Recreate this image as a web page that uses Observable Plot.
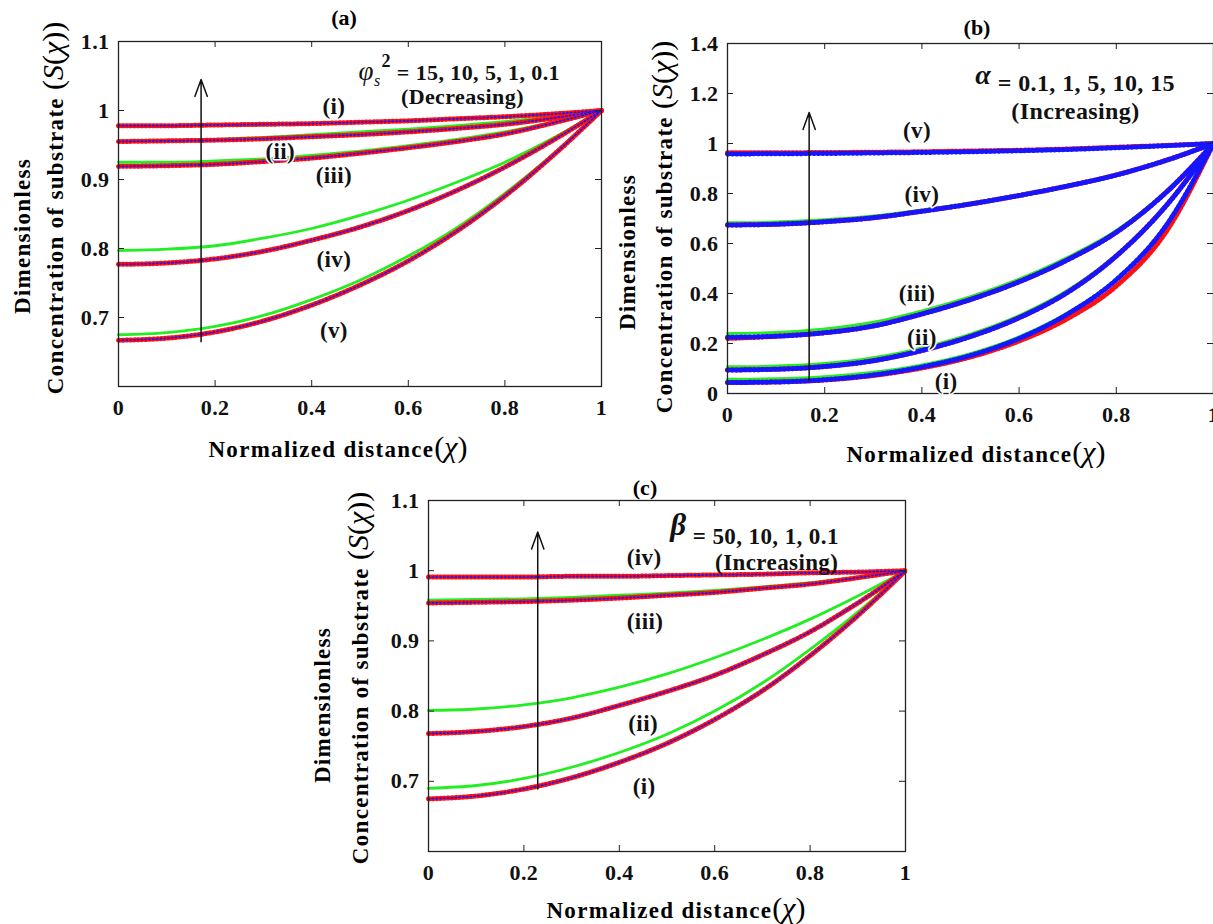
<!DOCTYPE html>
<html>
<head>
<meta charset="utf-8">
<script src="https://cdn.jsdelivr.net/npm/d3@7"></script>
<script src="https://cdn.jsdelivr.net/npm/@observablehq/plot@0.6"></script>
<style>
html,body{margin:0;padding:0;background:#fff;overflow:hidden;}
#root{position:relative;width:1213px;height:924px;overflow:hidden;background:#fff;font-family:"Liberation Serif","Times New Roman","DejaVu Serif",serif;color:#000;}
.abs{position:absolute;white-space:nowrap;transform:translate(-50%,-50%);font-weight:bold;line-height:1;}
.ylab{transform:translate(-50%,-50%) rotate(-90deg);font-size:23px;letter-spacing:1.3px;}
.xlab{font-size:23px;letter-spacing:1.3px;}
.math{font-weight:normal;font-size:30px;letter-spacing:0;}
.title{font-size:22px;}
</style>
</head>
<body>
<div id="root"></div>
<script>
// ---------------- data ----------------
const chi = [0, 0.1, 0.2, 0.3, 0.4, 0.5, 0.6, 0.7, 0.8, 0.9, 1];
const xTicks = [0, 0.2, 0.4, 0.6, 0.8, 1];

// Panel (a): phi_s^2 = 15, 10, 5, 1, 0.1
const aCurves = ["(i)", "(ii)", "(iii)", "(iv)", "(v)"];
const aYTicks = [0.7, 0.8, 0.9, 1, 1.1];
const aRed = [
  [0.978, 0.978, 0.979, 0.980, 0.981, 0.983, 0.985, 0.988, 0.991, 0.995, 1.0],
  [0.955, 0.956, 0.957, 0.959, 0.962, 0.965, 0.969, 0.974, 0.980, 0.989, 1.0],
  [0.919, 0.920, 0.922, 0.926, 0.931, 0.938, 0.946, 0.955, 0.966, 0.982, 1.0],
  [0.777, 0.779, 0.785, 0.796, 0.812, 0.831, 0.855, 0.884, 0.918, 0.957, 1.0],
  [0.667, 0.670, 0.679, 0.695, 0.718, 0.747, 0.782, 0.825, 0.876, 0.935, 1.0]
];
const aBlue = [
  [0.978, 0.978, 0.979, 0.980, 0.981, 0.983, 0.985, 0.988, 0.991, 0.995, 1.0],
  [0.955, 0.956, 0.957, 0.959, 0.962, 0.965, 0.969, 0.974, 0.980, 0.989, 1.0],
  [0.919, 0.920, 0.922, 0.926, 0.931, 0.938, 0.946, 0.955, 0.966, 0.982, 1.0],
  [0.777, 0.779, 0.785, 0.796, 0.812, 0.831, 0.855, 0.884, 0.918, 0.957, 1.0],
  [0.667, 0.670, 0.679, 0.695, 0.718, 0.747, 0.782, 0.825, 0.876, 0.935, 1.0]
];
const aGreen = [
  [0.977, 0.977, 0.978, 0.979, 0.981, 0.983, 0.985, 0.988, 0.991, 0.995, 1.0],
  [0.956, 0.957, 0.958, 0.961, 0.965, 0.969, 0.973, 0.978, 0.984, 0.991, 1.0],
  [0.925, 0.925, 0.927, 0.930, 0.935, 0.941, 0.949, 0.958, 0.969, 0.983, 1.0],
  [0.797, 0.799, 0.804, 0.815, 0.829, 0.848, 0.870, 0.896, 0.925, 0.960, 1.0],
  [0.675, 0.678, 0.687, 0.703, 0.726, 0.754, 0.789, 0.830, 0.880, 0.937, 1.0]
];
const aLabels = [
  {x: 0.446, y: 1.006, t: "(i)"}, {x: 0.335, y: 0.941, t: "(ii)"},
  {x: 0.446, y: 0.906, t: "(iii)"}, {x: 0.446, y: 0.784, t: "(iv)"},
  {x: 0.446, y: 0.681, t: "(v)"}
];
const aArrow = [{x: 0.171, y1: 0.665, y2: 1.045}];
const aNote = [{x: 0.497, y: 1.055, sym: "φ", sub: "s", sup: "2", rest: "= 15, 10, 5, 1, 0.1"}];
const aNote2 = [{x: 0.712, y: 1.019, t: "(Decreasing)"}];

// Panel (b): alpha = 0.1, 1, 5, 10, 15
const bCurves = ["(i)", "(ii)", "(iii)", "(iv)", "(v)"];
const bYTicks = [0, 0.2, 0.4, 0.6, 0.8, 1, 1.2, 1.4];
const bRed = [
  [0.044, 0.046, 0.054, 0.072, 0.102, 0.146, 0.210, 0.300, 0.430, 0.640, 1.0],
  [0.094, 0.097, 0.108, 0.131, 0.172, 0.228, 0.303, 0.405, 0.550, 0.745, 1.0],
  [0.220, 0.229, 0.243, 0.270, 0.318, 0.376, 0.447, 0.535, 0.645, 0.800, 1.0],
  [0.674, 0.677, 0.687, 0.703, 0.729, 0.758, 0.792, 0.830, 0.874, 0.931, 1.0],
  [0.963, 0.963, 0.964, 0.965, 0.967, 0.970, 0.973, 0.978, 0.985, 0.992, 1.0]
];
const bBlue = [
  [0.044, 0.046, 0.055, 0.074, 0.106, 0.152, 0.220, 0.318, 0.455, 0.665, 1.0],
  [0.094, 0.097, 0.108, 0.131, 0.172, 0.228, 0.303, 0.405, 0.550, 0.745, 1.0],
  [0.225, 0.229, 0.243, 0.270, 0.318, 0.376, 0.447, 0.535, 0.645, 0.800, 1.0],
  [0.674, 0.677, 0.687, 0.703, 0.729, 0.758, 0.792, 0.830, 0.874, 0.931, 1.0],
  [0.958, 0.959, 0.960, 0.962, 0.964, 0.967, 0.971, 0.976, 0.983, 0.991, 1.0]
];
const bGreen = [
  [0.057, 0.059, 0.067, 0.085, 0.115, 0.160, 0.227, 0.323, 0.458, 0.667, 1.0],
  [0.107, 0.110, 0.120, 0.143, 0.183, 0.238, 0.312, 0.413, 0.555, 0.748, 1.0],
  [0.240, 0.244, 0.258, 0.285, 0.331, 0.388, 0.458, 0.545, 0.652, 0.805, 1.0],
  [0.683, 0.686, 0.695, 0.710, 0.734, 0.762, 0.795, 0.833, 0.876, 0.932, 1.0],
  [0.958, 0.959, 0.960, 0.962, 0.964, 0.967, 0.971, 0.976, 0.983, 0.991, 1.0]
];
const bLabels = [
  {x: 0.39, y: 1.05, t: "(v)"}, {x: 0.40, y: 0.795, t: "(iv)"},
  {x: 0.39, y: 0.40, t: "(iii)"}, {x: 0.40, y: 0.225, t: "(ii)"},
  {x: 0.45, y: 0.046, t: "(i)"}
];
const bArrow = [{x: 0.168, y1: 0.052, y2: 1.124}];
const bNote = [{x: 0.51, y: 1.24, sym: "α", rest: "= 0.1, 1, 5, 10, 15"}];
const bNote2 = [{x: 0.716, y: 1.13, t: "(Increasing)"}];

// Panel (c): beta = 50, 10, 1, 0.1
const cCurves = ["(i)", "(ii)", "(iii)", "(iv)"];
const cYTicks = [0.7, 0.8, 0.9, 1, 1.1];
const cRed = [
  [0.675, 0.679, 0.689, 0.705, 0.727, 0.754, 0.788, 0.829, 0.879, 0.936, 1.0],
  [0.768, 0.771, 0.778, 0.790, 0.808, 0.828, 0.851, 0.880, 0.913, 0.954, 1.0],
  [0.954, 0.955, 0.956, 0.958, 0.961, 0.965, 0.969, 0.975, 0.981, 0.990, 1.0],
  [0.991, 0.991, 0.991, 0.992, 0.992, 0.993, 0.994, 0.995, 0.997, 0.998, 1.0]
];
const cBlue = [
  [0.675, 0.679, 0.689, 0.705, 0.727, 0.754, 0.788, 0.829, 0.879, 0.936, 1.0],
  [0.768, 0.771, 0.778, 0.790, 0.808, 0.828, 0.851, 0.880, 0.913, 0.954, 1.0],
  [0.954, 0.955, 0.956, 0.958, 0.961, 0.965, 0.969, 0.975, 0.981, 0.990, 1.0],
  [0.991, 0.991, 0.991, 0.992, 0.992, 0.993, 0.994, 0.995, 0.997, 0.998, 1.0]
];
const cGreen = [
  [0.690, 0.694, 0.704, 0.720, 0.741, 0.767, 0.800, 0.840, 0.888, 0.941, 1.0],
  [0.801, 0.803, 0.809, 0.819, 0.834, 0.853, 0.876, 0.902, 0.931, 0.964, 1.0],
  [0.958, 0.959, 0.960, 0.962, 0.965, 0.968, 0.972, 0.977, 0.983, 0.991, 1.0],
  [0.991, 0.991, 0.991, 0.992, 0.992, 0.993, 0.994, 0.995, 0.997, 0.998, 1.0]
];
const cLabels = [
  {x: 0.452, y: 1.018, t: "(iv)"}, {x: 0.454, y: 0.928, t: "(iii)"},
  {x: 0.45, y: 0.782, t: "(ii)"}, {x: 0.452, y: 0.692, t: "(i)"}
];
const cArrow = [{x: 0.229, y1: 0.689, y2: 1.055}];
const cNote = [{x: 0.507, y: 1.049, sym: "β", rest: "= 50, 10, 1, 0.1"}];
const cNote2 = [{x: 0.73, y: 1.011, t: "(Increasing)"}];

// ---------------- layout ----------------
const root = document.getElementById("root");
const GREEN = "#22ee22", RED = "#ff1010", BLUE = "#1515ff";
const FONT = "'Liberation Serif','Times New Roman','DejaVu Serif',serif";

function noteText(d) { return d.sym + (d.sub || "") + (d.sup || "") + " " + d.rest; }

function panel(cfg) {
  const mL = 70, mR = 20, mT = 20, mB = 50;
  const f = cfg.frame;
  const rows = (arr) => arr.flatMap((vals, k) => vals.map((v, j) => ({x: chi[j], y: v, curve: cfg.names[k]})));
  const R = rows(cfg.red), B = rows(cfg.blue), G = rows(cfg.green);
  const L = {x: "x", y: "y", z: "curve", curve: "monotone-x"};
  const marks = [
    Plot.line(G, {...L, stroke: GREEN, strokeWidth: 2.8}),
    Plot.line(R, {...L, stroke: RED, strokeWidth: 1.2}),
    Plot.line(R, {...L, stroke: RED, strokeWidth: 5, strokeDasharray: "1.4,2.4"})
  ];
  if (cfg.blueComb) {
    marks.push(Plot.line(B, {...L, stroke: BLUE, strokeWidth: 1.1}));
    marks.push(Plot.line(B, {...L, stroke: BLUE, strokeWidth: 5, strokeDasharray: "1.3,3"}));
  } else {
    marks.push(Plot.line(B, {...L, stroke: BLUE, strokeWidth: 1.7, strokeDasharray: "1.3,2.5"}));
  }
  marks.push(
    Plot.frame({stroke: "#222", strokeWidth: 1.3}),
    Plot.tickX(xTicks, {x: d => d, insetTop: f.h - 6, stroke: "#222"}),
    Plot.tickX(xTicks, {x: d => d, insetBottom: f.h - 6, stroke: "#222"}),
    Plot.tickY(cfg.yTicks, {y: d => d, insetRight: f.w - 6, stroke: "#222"}),
    Plot.tickY(cfg.yTicks, {y: d => d, insetLeft: f.w - 6, stroke: "#222"}),
    Plot.axisX({ticks: xTicks, tickSize: 0, tickPadding: 13, tickFormat: d => String(d), label: null}),
    Plot.axisY({ticks: cfg.yTicks, tickSize: 0, tickPadding: 9, tickFormat: d => String(d), label: null}),
    Plot.arrow(cfg.arrow, {x1: "x", x2: "x", y1: "y1", y2: "y2", stroke: "#111", strokeWidth: 1.5, headLength: 18, headAngle: 40}),
    Plot.text(cfg.labels, {x: "x", y: "y", text: "t", fontSize: 23, fontWeight: "bold", fill: "#111", stroke: "white", strokeWidth: 3}),
    Plot.text(cfg.note, {x: "x", y: "y", text: noteText, textAnchor: "start", fontSize: cfg.noteSize, fontWeight: "bold", fill: "#111"}),
    Plot.text(cfg.note2, {x: "x", y: "y", text: "t", fontSize: cfg.noteSize, fontWeight: "bold", fill: "#111"})
  );
  const svg = Plot.plot({
    width: mL + f.w + mR,
    height: mT + f.h + mB,
    marginLeft: mL, marginRight: mR, marginTop: mT, marginBottom: mB,
    x: {domain: [0, 1]},
    y: {domain: cfg.yDomain},
    style: {fontFamily: FONT, fontSize: "22px", fontWeight: "bold", color: "#111", background: "transparent", overflow: "visible", letterSpacing: "0.4px"},
    marks
  });
  svg.style.position = "absolute";
  svg.style.left = (f.l - mL) + "px";
  svg.style.top = (f.t - mT) + "px";
  svg.style.maxWidth = "none";
  root.appendChild(svg);
  // math formatting of the parameter annotation
  const d = cfg.note[0];
  const NS = "http://www.w3.org/2000/svg";
  svg.querySelectorAll("text").forEach(el => {
    if (el.textContent !== noteText(d)) return;
    while (el.firstChild) el.removeChild(el.firstChild);
    const add = (txt, attrs) => {
      const t = document.createElementNS(NS, "tspan");
      for (const k in attrs) t.setAttribute(k, attrs[k]);
      t.textContent = txt;
      el.appendChild(t);
    };
    if (d.sub) {
      add(d.sym, {"font-style": "italic", "font-weight": "normal", "font-size": 27});
      add(d.sub, {"font-style": "italic", "font-weight": "normal", "font-size": 16, dy: 6});
      add(d.sup, {"font-size": 18, dy: -19, dx: 1});
      add(" " + d.rest, {dy: 13});
    } else {
      add(d.sym, {"font-style": "italic", "font-size": cfg.symSize, dy: -cfg.symRaise});
      add(" " + d.rest, {dy: cfg.symRaise});
    }
  });
}

function addDiv(cls, html, cx, cy) {
  const el = document.createElement("div");
  el.className = "abs " + cls;
  el.innerHTML = html;
  el.style.left = cx + "px";
  el.style.top = cy + "px";
  root.appendChild(el);
}

panel({frame: {l: 118, t: 41, w: 483, h: 345}, yDomain: [0.6, 1.1], yTicks: aYTicks, names: aCurves,
  red: aRed, blue: aBlue, green: aGreen, labels: aLabels, arrow: aArrow, note: aNote, note2: aNote2, blueComb: false, noteSize: 22});
panel({frame: {l: 727, t: 43, w: 486, h: 350}, yDomain: [0, 1.4], yTicks: bYTicks, names: bCurves,
  red: bRed, blue: bBlue, green: bGreen, labels: bLabels, arrow: bArrow, note: bNote, note2: bNote2, blueComb: true, symSize: 28, symRaise: 7, noteSize: 24});
panel({frame: {l: 428, t: 500, w: 477, h: 351}, yDomain: [0.6, 1.1], yTicks: cYTicks, names: cCurves,
  red: cRed, blue: cBlue, green: cGreen, labels: cLabels, arrow: cArrow, note: cNote, note2: cNote2, blueComb: false, symSize: 31, symRaise: 9, noteSize: 23});

const XLAB = 'Normalized distance<span class="math">(<i>χ</i>)</span>';
const YLAB1 = 'Dimensionless';
const YLAB2 = 'Concentration of substrate <span class="math">(<i>S</i>(<i>χ</i>))</span>';

addDiv("title", "(a)", 344, 18);
addDiv("title", "(b)", 977, 28);
addDiv("title", "(c)", 645, 488);
addDiv("xlab", XLAB, 338, 447);
addDiv("xlab", XLAB, 976, 452);
addDiv("xlab", XLAB, 676, 908);
addDiv("ylab", YLAB1, 22, 236);
addDiv("ylab", YLAB2, 53, 208);
addDiv("ylab", YLAB1, 627, 252);
addDiv("ylab", YLAB2, 662, 227);
addDiv("ylab", YLAB1, 322, 705);
addDiv("ylab", YLAB2, 358, 678);
</script>
</body>
</html>
